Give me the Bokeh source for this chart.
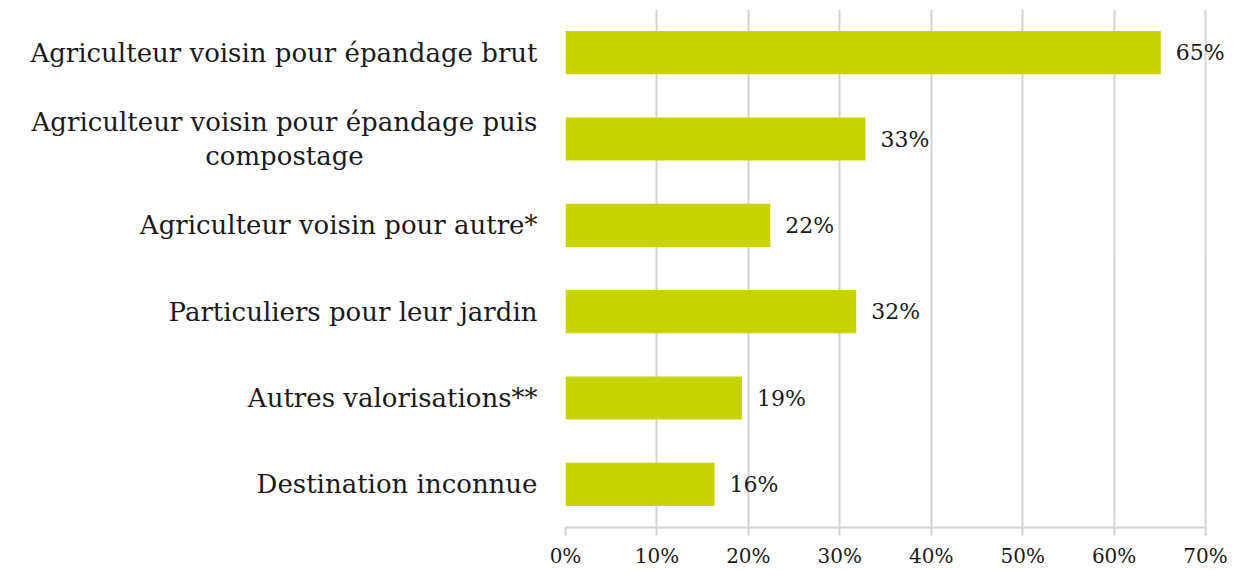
from bokeh.plotting import figure
from bokeh.layouts import row
from bokeh.models import ColumnDataSource, FactorRange, Range1d, FixedTicker, PrintfTickFormatter
from bokeh.core.properties import value
from bokeh.embed import file_html
from bokeh.resources import INLINE

categories = [
    "Agriculteur voisin pour épandage brut",
    "Agriculteur voisin pour épandage puis\ncompostage",
    "Agriculteur voisin pour autre*",
    "Particuliers pour leur jardin",
    "Autres valorisations**",
    "Destination inconnue",
]
values = [65.1, 32.8, 22.4, 31.8, 19.3, 16.3]
value_labels = ["65%", "33%", "22%", "32%", "19%", "16%"]
x_ticks = [0, 10, 20, 30, 40, 50, 60, 70]

FONT = "DejaVu Serif"
BAR = "#C8D400"
GRID = "#D4D4D4"
TXT = "#1a1a1a"

LEFT_W = 545      # width of the label panel (px)
LABEL_RIGHT = 537  # right edge of the category labels (px)
MULTI_CENTER = 284  # centre of the two-line label (px)

yr = FactorRange(factors=list(reversed(categories)), range_padding=0)

src = ColumnDataSource(dict(cat=categories, val=values, lab=value_labels))
single = [c for c in categories if "\n" not in c]
multi = [c for c in categories if "\n" in c]
src_single = ColumnDataSource(dict(cat=single, x=[LABEL_RIGHT] * len(single)))
src_multi = ColumnDataSource(dict(cat=multi, x=[MULTI_CENTER] * len(multi)))

# label panel
lp = figure(width=LEFT_W, height=570, y_range=yr, x_range=Range1d(0, LEFT_W),
            output_backend="svg", toolbar_location=None,
            min_border_left=0, min_border_right=0, min_border_top=9, min_border_bottom=43)
lp.outline_line_color = None
lp.axis.visible = False
lp.grid.visible = False
lp.text(x="x", y="cat", text="cat", source=src_single, text_align="right",
        text_baseline="middle", text_font=value(FONT), text_font_size="26px",
        text_color=TXT)
lp.text(x="x", y="cat", text="cat", source=src_multi, text_align="center",
        text_baseline="middle", text_font=value(FONT), text_font_size="26px",
        text_color=TXT, text_line_height=1.15)

# bar chart
p = figure(
    width=1230 - LEFT_W, height=570,
    y_range=yr,
    x_range=Range1d(0, 72.73),
    output_backend="svg", toolbar_location=None,
    min_border_left=565 - LEFT_W, min_border_right=0, min_border_top=9, min_border_bottom=43,
)
p.outline_line_color = None

p.hbar(y="cat", right="val", left=0, height=0.5, source=src, color=BAR, line_color=None)
p.text(x="val", y="cat", text="lab", source=src, x_offset=15,
       text_align="left", text_baseline="middle",
       text_font=value(FONT), text_font_size="22px", text_color=TXT)

p.xaxis.ticker = FixedTicker(ticks=x_ticks)
p.xaxis.bounds = (0, 70)
p.xaxis.formatter = PrintfTickFormatter(format="%d%%")
p.xaxis.axis_line_color = GRID
p.xaxis.axis_line_width = 2
p.xaxis.major_tick_line_color = GRID
p.xaxis.major_tick_line_width = 2
p.xaxis.major_tick_out = 8
p.xaxis.major_tick_in = 0
p.xaxis.minor_tick_line_color = None
p.xaxis.major_label_text_font = FONT
p.xaxis.major_label_text_font_size = "20px"
p.xaxis.major_label_text_color = TXT
p.xaxis.major_label_standoff = 8

p.yaxis.visible = False
p.xgrid.grid_line_color = GRID
p.xgrid.grid_line_width = 2
p.xgrid.bounds = (0, 70)
p.ygrid.grid_line_color = None

layout = row(lp, p)
open("out.html", "w").write(file_html(layout, INLINE))
